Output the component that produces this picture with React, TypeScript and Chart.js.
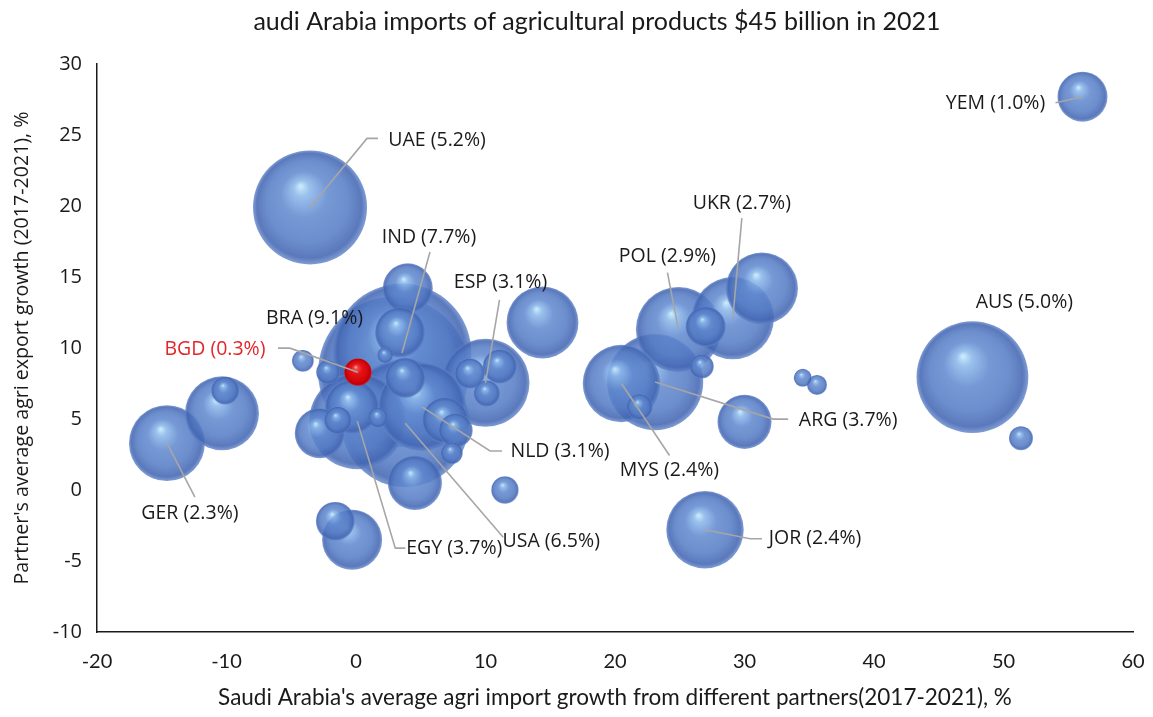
import React, { useEffect, useRef } from "react";
import { Chart, registerables } from "chart.js";

Chart.register(...registerables);

// ---------------- DATA ----------------
const TITLE = "audi Arabia imports of agricultural products $45 billion in 2021";
const X_TITLE = "Saudi Arabia's average agri import growth from different partners(2017-2021), %";
const Y_TITLE = "Partner's average agri export growth (2017-2021), %";

const partners = [
  "YEM", "UAE", "IND", "ESP", "BRA", "BGD", "GER", "EGY", "USA", "NLD", "MYS", "ARG", "POL", "UKR", "AUS", "JOR",
  "", "", "", "", "", "", "", "", "", "", "", "", "", "", "", "",
  "", "", "", "", "", "", "", "", "", "", "", "", "", "", "",
];

// Saudi Arabia's average agri import growth from partner (2017-2021), %
const importGrowth = [
  56.1, -3.55, 3.55, 10.0, 2.9, 0.15, -14.6, 0.1, 3.8, 5.1, 20.5, 23.1, 24.9, 29.1, 47.6, 26.95,
  4.0, 3.4, 2.25, 3.8, -4.1, -2.15, -0.3, -1.4, 1.7, -2.8, 4.55, 7.4, 11.5, 8.8, 11.1, 10.1,
  6.9, 7.7, -1.6, -0.3, 14.4, -10.35, -10.1, 31.35, 27.0, 26.7, 21.9, 30.0, 34.5, 35.6, 51.35,
];

// Partner's average agri export growth (2017-2021), %
const exportGrowth = [
  27.7, 19.9, 9.65, 7.55, 8.3, 8.3, 3.3, 4.85, 4.7, 5.85, 7.5, 7.6, 11.3, 12.1, 7.95, -2.8,
  14.2, 11.1, 9.5, 7.9, 9.1, 8.3, 5.85, 4.9, 5.1, 4.0, 0.5, 2.6, 0.0, 8.2, 8.7, 6.8,
  4.9, 4.2, -2.2, -3.5, 11.8, 5.4, 7.0, 14.2, 11.5, 8.7, 5.85, 4.8, 7.9, 7.4, 3.65,
];

// Partner's share in Saudi Arabia's agri imports (2021), %
const importShare = [
  1.0, 5.2, 7.7, 3.1, 9.1, 0.3, 2.3, 3.7, 6.5, 3.1, 2.4, 3.7, 2.9, 2.7, 5.0, 2.4,
  1.0, 1.0, 0.1, 0.64, 0.19, 0.23, 1.17, 0.3, 0.16, 1.0, 1.17, 0.19, 0.3, 0.36, 0.46, 0.27,
  0.85, 0.46, 0.6, 1.44, 2.07, 2.19, 0.31, 2.07, 0.64, 0.23, 0.27, 1.17, 0.13, 0.16, 0.23,
];

const HIGHLIGHT = "BGD";

const X_MIN = -20, X_MAX = 60, X_STEP = 10;
const Y_MIN = -10, Y_MAX = 30, Y_STEP = 5;

// ---------------- LAYOUT / STYLE ----------------
// label text centre offset (px) from bubble centre, and leader polyline (px, relative to bubble centre)
const LABEL_LAYOUT: Record<string, { dx: number; dy: number; leader: number[][] }> = {
  YEM: { dx: -87, dy: 7, leader: [[-27, 6]] },
  UAE: { dx: 127, dy: -67, leader: [[68, -69], [57, -69]] },
  IND: { dx: 27, dy: -116, leader: [[28, -101]] },
  ESP: { dx: 15, dy: -100, leader: [[14, -83]] },
  BRA: { dx: -79, dy: -54, leader: [] },
  BGD: { dx: -143, dy: -23, leader: [[-80, -24], [-68, -24]] },
  GER: { dx: 23, dy: 70, leader: [[28, 54]] },
  EGY: { dx: 97, dy: 127, leader: [[48, 127], [38, 127]] },
  USA: { dx: 146, dy: 118, leader: [[98, 114]] },
  NLD: { dx: 138, dy: 45, leader: [[80, 44], [68, 44]] },
  MYS: { dx: 48, dy: 87, leader: [[48, 72]] },
  ARG: { dx: 193, dy: 38, leader: [[133, 37], [118, 37]] },
  POL: { dx: -11, dy: -73, leader: [[-11, -57]] },
  UKR: { dx: 9, dy: -115, leader: [[9, -100]] },
  AUS: { dx: 52, dy: -75, leader: [] },
  JOR: { dx: 110, dy: 9, leader: [[57, 9], [45, 9]] },
};

const RADIUS_PER_SQRT_SHARE = 25;
const LABEL_FONT = "19.5px 'Open Sans'";
const TITLE_FONT = "25px Lato";
const Y_TITLE_FONT = "19.6px 'Open Sans'";
const TEXT_COLOR = "#1a1a1a";

type Palette = { hi: string; light: string; body: string; mid: string; dark: string; rim: string };
const BLUE: Palette = {
  hi: "rgba(205,238,252,0.95)",
  light: "rgba(140,184,234,0.88)",
  body: "rgba(96,137,207,0.86)",
  mid: "rgba(84,123,196,0.86)",
  dark: "rgba(66,101,178,0.87)",
  rim: "rgba(96,132,200,0.8)",
};
const RED: Palette = {
  hi: "rgba(255,175,175,1)",
  light: "rgba(240,70,70,1)",
  body: "rgba(228,18,22,1)",
  mid: "rgba(214,8,12,1)",
  dark: "rgba(190,0,5,1)",
  rim: "rgba(215,30,35,1)",
};

function sphereFill(c: any, p: Palette) {
  const chart = c.chart;
  const raw = c.raw;
  if (!raw || !chart.scales || !chart.scales.x || !chart.scales.y) return p.body;
  const x = chart.scales.x.getPixelForValue(raw.x);
  const y = chart.scales.y.getPixelForValue(raw.y);
  const r = Math.max(raw.r, 1);
  if (!isFinite(x) || !isFinite(y)) return p.body;
  const g = chart.ctx.createRadialGradient(x - 0.17 * r, y - 0.38 * r, 0, x, y, r);
  g.addColorStop(0, p.hi);
  g.addColorStop(0.14, p.light);
  g.addColorStop(0.4, p.body);
  g.addColorStop(0.72, p.mid);
  g.addColorStop(0.92, p.dark);
  g.addColorStop(1, p.rim);
  return g;
}

type Pt = { x: number; y: number; r: number; name: string; share: number };

function buildPoints(): { main: Pt[]; highlight: Pt[] } {
  const all: Pt[] = partners.map((name, i) => ({
    x: importGrowth[i],
    y: exportGrowth[i],
    r: RADIUS_PER_SQRT_SHARE * Math.sqrt(importShare[i]),
    name,
    share: importShare[i],
  }));
  const main = all.filter((p) => p.name !== HIGHLIGHT).sort((a, b) => b.r - a.r);
  const highlight = all.filter((p) => p.name === HIGHLIGHT);
  return { main, highlight };
}

const titlePlugin = {
  id: "titles",
  afterDraw(chart: any) {
    const { ctx, chartArea } = chart;
    ctx.save();
    ctx.fillStyle = TEXT_COLOR;
    ctx.textAlign = "center";
    ctx.textBaseline = "middle";
    ctx.font = TITLE_FONT;
    ctx.fillText(TITLE, (chartArea.left + chartArea.right) / 2 - 18, 22);
    ctx.translate(22, (chartArea.top + chartArea.bottom) / 2);
    ctx.rotate(-Math.PI / 2);
    ctx.font = Y_TITLE_FONT;
    ctx.fillText(Y_TITLE, 0, 0);
    ctx.restore();
  },
};

const labelPlugin = {
  id: "bubbleLabels",
  afterDatasetsDraw(chart: any) {
    const ctx = chart.ctx;
    ctx.save();
    chart.data.datasets.forEach((ds: any, di: number) => {
      const meta = chart.getDatasetMeta(di);
      meta.data.forEach((el: any, i: number) => {
        const pt = ds.data[i] as Pt;
        if (!pt.name) return;
        const lay = LABEL_LAYOUT[pt.name];
        if (!lay) return;
        const cx = el.x, cy = el.y;
        if (lay.leader.length) {
          ctx.beginPath();
          ctx.strokeStyle = "#a6a6a6";
          ctx.lineWidth = 1.6;
          ctx.moveTo(cx + lay.leader[0][0], cy + lay.leader[0][1]);
          for (let k = 1; k < lay.leader.length; k++) ctx.lineTo(cx + lay.leader[k][0], cy + lay.leader[k][1]);
          ctx.lineTo(cx, cy);
          ctx.stroke();
        }
        ctx.font = LABEL_FONT;
        ctx.textAlign = "center";
        ctx.textBaseline = "middle";
        ctx.fillStyle = pt.name === HIGHLIGHT ? "#e3262b" : TEXT_COLOR;
        ctx.fillText(`${pt.name} (${pt.share.toFixed(1)}%)`, cx + lay.dx, cy + lay.dy);
      });
    });
    ctx.restore();
  },
};

export default function App() {
  const ref = useRef<HTMLCanvasElement | null>(null);

  useEffect(() => {
    if (!ref.current) return;
    const { main, highlight } = buildPoints();
    const chart = new Chart(ref.current, {
      type: "bubble",
      data: {
        datasets: [
          {
            label: HIGHLIGHT,
            data: highlight as any,
            backgroundColor: (c: any) => sphereFill(c, RED),
            borderWidth: 0,
            clip: false as any,
          },
          {
            label: "Partners",
            data: main as any,
            backgroundColor: (c: any) => sphereFill(c, BLUE),
            borderWidth: 0,
            clip: false as any,
          },
        ],
      },
      options: {
        responsive: false,
        animation: false,
        events: [],
        layout: { autoPadding: false, padding: { top: 64, left: 8, right: 20, bottom: 6 } },
        plugins: {
          legend: { display: false },
          tooltip: { enabled: false },
          title: { display: false },
        },
        scales: {
          x: {
            type: "linear",
            min: X_MIN,
            max: X_MAX,
            afterFit: (s: any) => { s.height = 79; s.paddingLeft = 0; s.paddingRight = 0; },
            ticks: { stepSize: X_STEP, color: TEXT_COLOR, padding: 18, font: { family: "Lato", size: 20 } },
            grid: { display: false, drawTicks: false },
            border: { display: true, color: "#1a1a1a", width: 1.5 },
            title: {
              display: true,
              text: X_TITLE,
              color: TEXT_COLOR,
              font: { family: "Lato", size: 22.5 },
              padding: { top: 0, bottom: 0 },
            },
          },
          y: {
            type: "linear",
            min: Y_MIN,
            max: Y_MAX,
            afterFit: (s: any) => { s.width = 89; s.paddingTop = 0; s.paddingBottom = 0; },
            ticks: { stepSize: Y_STEP, color: TEXT_COLOR, padding: 15, font: { family: "Open Sans", size: 20 } },
            grid: { display: false, drawTicks: false },
            border: { display: true, color: "#1a1a1a", width: 1.5 },
            title: { display: false },
          },
        },
      },
      plugins: [labelPlugin, titlePlugin],
    });
    return () => chart.destroy();
  }, []);

  return (
    <div style={{ position: "fixed", left: 0, top: 0, width: 1153, height: 717, background: "#fff" }}>
      <canvas ref={ref} width={1153} height={717} style={{ width: 1153, height: 717, display: "block" }} />
    </div>
  );
}
